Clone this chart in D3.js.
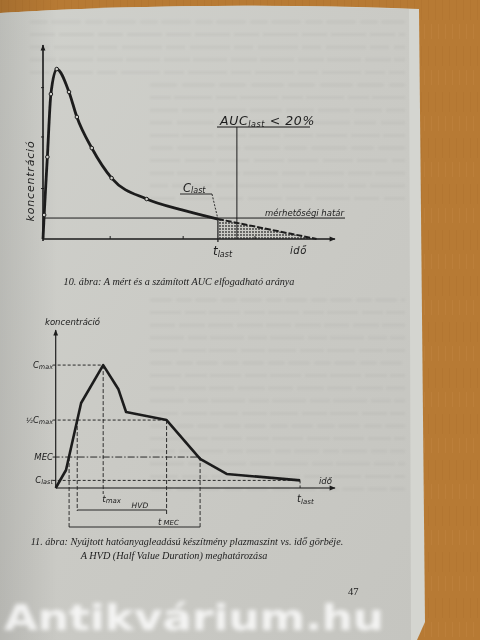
<!DOCTYPE html>
<html><head><meta charset="utf-8">
<script src="https://cdn.jsdelivr.net/npm/d3@7"></script>
<style>html,body{margin:0;padding:0;background:#b47832;} svg{display:block}</style>
</head><body><svg id="c" width="480" height="640"></svg>
<script>
// ---------- Chart 1 (10. ábra) : measured concentration curve ----------
const c1_time   = [0, 0.4, 1.5, 2.7, 4.7, 8.9, 11.6, 16.7, 23.5, 35.5, 47.9, 59.9];
const c1_conc   = [0, 12.4, 42.3, 74.7, 87.6, 75.8, 62.9, 46.9, 31.4, 20.6, 14.9, 10.3];
const c1_marked = [0, 1, 1, 1, 1, 1, 1, 1, 1, 1, 0, 0];   // sampled points drawn as circles
const c1_tail_time = [59.9, 93.7];                        // extrapolated part after t_last
const c1_tail_conc = [10.3, 0];
const c1_loq = 10.8;          // mérhetőségi határ
const c1_tlast = 59.9;
const c1_aucMarker = 66.4;    // vertical line under AUC label
const c1_xticks = [23, 48, 72.6];
const c1_yticks = [26, 52.6, 78];

// ---------- Chart 2 (11. ábra) : HVD ----------
const c2_time = [0, 3.7, 9.1, 17.0, 22.4, 25.2, 39.7, 51.7, 61.2, 87.5];
const c2_conc = [0, 11.4, 53.8, 77.8, 62.7, 48.1, 43.0, 18.4, 8.9, 4.8];
const c2_levels = {Cmax: 77.8, half: 43.0, MEC: 19.6, Clast: 4.8};
const c2_times  = {mecStart: 4.8, halfStart: 7.7, tmax: 17.0, halfEnd: 39.7, mecEnd: 51.7, tlast: 87.5};

const svg = d3.select("#c");
const ink = "#1d1d1d";
const defs = svg.append("defs");

// paper gradient
const g1 = defs.append("linearGradient").attr("id","paper").attr("x1",0).attr("x2",1).attr("y1",0).attr("y2",1);
g1.append("stop").attr("offset","0").attr("stop-color","#d0d1cc");
g1.append("stop").attr("offset","0.5").attr("stop-color","#cacac5");
g1.append("stop").attr("offset","1").attr("stop-color","#c5c5c0");
const g2 = defs.append("linearGradient").attr("id","shade").attr("x1",0).attr("x2",1);
g2.append("stop").attr("offset","0").attr("stop-color","#000").attr("stop-opacity",0.10);
g2.append("stop").attr("offset","0.12").attr("stop-color","#000").attr("stop-opacity",0);
const woodPat = defs.append("pattern").attr("id","wood").attr("width",7).attr("height",46).attr("patternUnits","userSpaceOnUse");
woodPat.append("rect").attr("width",7).attr("height",46).attr("fill","#b77a34");
woodPat.append("rect").attr("x",1).attr("width",1).attr("height",20).attr("fill","#ab6e2a").attr("opacity",0.35);
woodPat.append("rect").attr("x",4).attr("y",24).attr("width",1).attr("height",15).attr("fill","#c48944").attr("opacity",0.35);
const dots = defs.append("pattern").attr("id","dots").attr("width",3).attr("height",3).attr("patternUnits","userSpaceOnUse");
dots.append("circle").attr("cx",1).attr("cy",1).attr("r",0.9).attr("fill",ink);
defs.append("filter").attr("id","blur").append("feGaussianBlur").attr("stdDeviation",2.2);
defs.append("filter").attr("id","blur1").append("feGaussianBlur").attr("stdDeviation",0.8);
defs.append("filter").attr("id","soft").append("feGaussianBlur").attr("stdDeviation",0.35);

// background wood and page
svg.append("rect").attr("width",480).attr("height",640).attr("fill","url(#wood)");
svg.append("path").attr("d","M0,13 Q200,1 419,9 L425,622 L417,640 L0,640 Z").attr("fill","#d4d5d0");
svg.append("path").attr("d","M0,13 Q200,1 409,9 L411,640 L0,640 Z").attr("fill","url(#paper)");
svg.append("rect").attr("width",480).attr("height",640).attr("fill","url(#shade)");

// faint bleed-through text lines
const bleed = svg.append("g").attr("stroke","#9a9a96").attr("stroke-width",3).attr("opacity",0.13).attr("filter","url(#blur1)");
for (let i=0;i<15;i++){
  const y = 22 + i*12.6;
  bleed.append("line").attr("x1", i<5?30:150).attr("x2",405).attr("y1",y).attr("y2",y)
    .attr("stroke-dasharray", (18+ (i*7)%13)+","+(3+(i%3))+","+(30+(i*5)%11)+",4");
}
for (let i=0;i<16;i++){
  const y = 300 + i*12.6;
  bleed.append("line").attr("x1",150).attr("x2",405).attr("y1",y).attr("y2",y)
    .attr("stroke-dasharray", (22+(i*9)%15)+",4,"+(16+(i*5)%12)+",3");
}

const main = svg.append("g").attr("filter","url(#soft)");

// arrow marker
const mk = defs.append("marker").attr("id","arr").attr("viewBox","0 0 10 10").attr("refX",9).attr("refY",5)
  .attr("markerWidth",8).attr("markerHeight",6).attr("orient","auto").attr("markerUnits","userSpaceOnUse");
mk.append("path").attr("d","M0,1 L10,5 L0,9 Z").attr("fill",ink);

// ====== Chart 1 ======
const x1 = d3.scaleLinear().domain([0,100]).range([43,335]);
const y1 = d3.scaleLinear().domain([0,100]).range([239,45]);
const c1 = main.append("g");

// shaded extrapolated AUC area
const tailArea = d3.area().x((d,i)=>x1(c1_tail_time[i])).y0(y1(0)).y1((d,i)=>y1(c1_tail_conc[i]));
c1.append("path").datum(c1_tail_time).attr("d",tailArea).attr("fill","url(#dots)").attr("opacity",0.85);
c1.append("path").datum(c1_tail_time)
  .attr("d", d3.line().x((d,i)=>x1(c1_tail_time[i])).y((d,i)=>y1(c1_tail_conc[i])))
  .attr("fill","none").attr("stroke",ink).attr("stroke-width",2).attr("stroke-dasharray","6,2");

// axes
c1.append("line").attr("x1",x1(0)).attr("x2",x1(0)).attr("y1",y1(0)+2).attr("y2",y1(100))
  .attr("stroke",ink).attr("stroke-width",1.6).attr("marker-end","url(#arr)");
c1.append("line").attr("x1",x1(0)).attr("x2",x1(100)).attr("y1",y1(0)).attr("y2",y1(0))
  .attr("stroke",ink).attr("stroke-width",1.4).attr("marker-end","url(#arr)");
c1_xticks.forEach(t=>c1.append("line").attr("x1",x1(t)).attr("x2",x1(t)).attr("y1",y1(0)).attr("y2",y1(0)-3).attr("stroke",ink).attr("stroke-width",1));
c1_yticks.forEach(v=>c1.append("line").attr("x1",x1(0)-2).attr("x2",x1(0)+1).attr("y1",y1(v)).attr("y2",y1(v)).attr("stroke",ink).attr("stroke-width",1));

// limit of quantification line
c1.append("line").attr("x1",x1(0)).attr("x2",345).attr("y1",y1(c1_loq)).attr("y2",y1(c1_loq)).attr("stroke",ink).attr("stroke-width",1);
c1.append("text").attr("x",344).attr("y",y1(c1_loq)-2.5).attr("text-anchor","end")
  .attr("font-family","DejaVu Sans").attr("font-style","italic").attr("font-size",8.5).attr("fill",ink).text("mérhetőségi határ");

// t_last vertical
c1.append("line").attr("x1",x1(c1_tlast)).attr("x2",x1(c1_tlast)).attr("y1",y1(c1_conc[c1_conc.length-1])).attr("y2",y1(0)+3)
  .attr("stroke",ink).attr("stroke-width",1.2);
// AUC vertical
c1.append("line").attr("x1",x1(c1_aucMarker)).attr("x2",x1(c1_aucMarker)).attr("y1",127).attr("y2",y1(0))
  .attr("stroke",ink).attr("stroke-width",1);

// curve
const line1 = d3.line().curve(d3.curveMonotoneX).x((d,i)=>x1(c1_time[i])).y((d,i)=>y1(c1_conc[i]));
c1.append("path").datum(c1_time).attr("d",line1).attr("fill","none").attr("stroke",ink).attr("stroke-width",2.8);
c1.selectAll(".pt").data(c1_time.map((t,i)=>({t, c:c1_conc[i], m:c1_marked[i]})).filter(d=>d.m))
  .join("circle").attr("cx",d=>x1(d.t)).attr("cy",d=>y1(d.c)).attr("r",1.8)
  .attr("fill","#cfcfca").attr("stroke",ink).attr("stroke-width",1);

// labels
const hand = s => s.attr("font-family","DejaVu Sans").attr("font-style","italic").attr("fill",ink);
hand(c1.append("text").attr("transform","translate(34,181) rotate(-90)").attr("text-anchor","middle").attr("font-size",11).attr("letter-spacing",0.8)).text("koncentráció");
const auc = hand(c1.append("text").attr("x",220).attr("y",125).attr("font-size",12.5).attr("letter-spacing",0.6));
auc.append("tspan").text("AUC");
auc.append("tspan").attr("font-size",8).attr("dy",2).text("last");
auc.append("tspan").attr("dy",-2).text(" < 20%");
c1.append("line").attr("x1",217).attr("x2",310).attr("y1",127).attr("y2",127).attr("stroke",ink).attr("stroke-width",1);
const cl = hand(c1.append("text").attr("x",183).attr("y",192).attr("font-size",11.5));
cl.append("tspan").text("C");
cl.append("tspan").attr("font-size",8).attr("dy",1).text("last");
c1.append("line").attr("x1",180).attr("x2",212).attr("y1",194).attr("y2",194).attr("stroke",ink).attr("stroke-width",0.9);
c1.append("line").attr("x1",212).attr("x2",x1(c1_tlast)).attr("y1",194).attr("y2",y1(c1_conc[c1_conc.length-1]))
  .attr("stroke",ink).attr("stroke-width",0.9).attr("stroke-dasharray","2,1.5");
const tl = hand(c1.append("text").attr("x",x1(c1_tlast)-5).attr("y",255).attr("font-size",12));
tl.append("tspan").text("t");
tl.append("tspan").attr("font-size",8).attr("dy",2).text("last");
hand(c1.append("text").attr("x",290).attr("y",254).attr("font-size",10).attr("letter-spacing",0.5)).text("idő");

// caption 1
main.append("text").attr("x",179).attr("y",285).attr("text-anchor","middle").attr("font-family","Liberation Serif")
  .attr("font-style","italic").attr("font-size",10.2).attr("fill","#222").text("10. ábra: A mért és a számított AUC elfogadható aránya");

// ====== Chart 2 ======
const x2 = d3.scaleLinear().domain([0,100]).range([55.7,335]);
const y2 = d3.scaleLinear().domain([0,100]).range([488,330]);
const c2 = main.append("g");
const thin = (sel,dash)=>sel.attr("stroke",ink).attr("stroke-width",0.9).attr("stroke-dasharray",dash||null);

c2.append("line").attr("x1",x2(0)).attr("x2",x2(0)).attr("y1",y2(0)).attr("y2",y2(100))
  .attr("stroke",ink).attr("stroke-width",1.2).attr("marker-end","url(#arr)");
c2.append("line").attr("x1",x2(0)).attr("x2",x2(100)).attr("y1",y2(0)).attr("y2",y2(0))
  .attr("stroke",ink).attr("stroke-width",1.2).attr("marker-end","url(#arr)");

const L = c2_levels, T = c2_times;
// horizontal guides
thin(c2.append("line").attr("x1",x2(0)-3).attr("x2",x2(T.tmax)).attr("y1",y2(L.Cmax)).attr("y2",y2(L.Cmax)),"3,2");
thin(c2.append("line").attr("x1",x2(0)-3).attr("x2",x2(T.halfEnd)).attr("y1",y2(L.half)).attr("y2",y2(L.half)),"3,2");
thin(c2.append("line").attr("x1",x2(0)-3).attr("x2",x2(T.mecEnd)).attr("y1",y2(L.MEC)).attr("y2",y2(L.MEC)),"7,2,1.5,2");
thin(c2.append("line").attr("x1",x2(0)-3).attr("x2",x2(T.tlast)).attr("y1",y2(L.Clast)).attr("y2",y2(L.Clast)),"3,2");
// vertical guides
thin(c2.append("line").attr("x1",x2(T.mecStart)).attr("x2",x2(T.mecStart)).attr("y1",y2(L.MEC)).attr("y2",528),"4,2");
thin(c2.append("line").attr("x1",x2(T.halfStart)).attr("x2",x2(T.halfStart)).attr("y1",y2(L.half)).attr("y2",511),"4,2");
thin(c2.append("line").attr("x1",x2(T.tmax)).attr("x2",x2(T.tmax)).attr("y1",y2(L.Cmax)).attr("y2",494),"4,2");
thin(c2.append("line").attr("x1",x2(T.halfEnd)).attr("x2",x2(T.halfEnd)).attr("y1",y2(L.half)).attr("y2",514),"4,2");
thin(c2.append("line").attr("x1",x2(T.mecEnd)).attr("x2",x2(T.mecEnd)).attr("y1",y2(L.MEC)).attr("y2",529),"4,2");
thin(c2.append("line").attr("x1",x2(T.tlast)).attr("x2",x2(T.tlast)).attr("y1",y2(L.Clast)).attr("y2",y2(0)),"3,2");
// brackets
thin(c2.append("line").attr("x1",x2(T.halfStart)).attr("x2",x2(T.halfEnd)).attr("y1",510).attr("y2",510));
thin(c2.append("line").attr("x1",x2(T.mecStart)).attr("x2",x2(T.mecEnd)).attr("y1",527).attr("y2",527));

// curve
const line2 = d3.line().x((d,i)=>x2(c2_time[i])).y((d,i)=>y2(c2_conc[i]));
c2.append("path").datum(c2_time).attr("d",line2).attr("fill","none").attr("stroke",ink).attr("stroke-width",2.6).attr("stroke-linejoin","round");

// labels chart 2
const fs2 = 8.5;
hand(c2.append("text").attr("x",45).attr("y",325).attr("font-size",fs2)).text("koncentráció");
hand(c2.append("text").attr("x",319).attr("y",484).attr("font-size",fs2)).text("idő");
const lab = (y, main_, sub, pre) => {
  const t = hand(c2.append("text").attr("x",53).attr("y",y+3).attr("text-anchor","end").attr("font-size",fs2));
  if (pre) t.append("tspan").attr("font-size",7).text(pre);
  t.append("tspan").text(main_);
  if (sub) t.append("tspan").attr("font-size",6.5).attr("dy",1).text(sub);
};
lab(y2(L.Cmax), "C", "max");
lab(y2(L.half), "C", "max", "½");
lab(y2(L.MEC), "MEC");
lab(y2(L.Clast), "C", "last");
const tm = hand(c2.append("text").attr("x",x2(T.tmax)-1).attr("y",502).attr("font-size",9));
tm.append("tspan").text("t");
tm.append("tspan").attr("font-size",7).attr("dy",1).text("max");
const tl2 = hand(c2.append("text").attr("x",x2(T.tlast)-3).attr("y",502).attr("font-size",10));
tl2.append("tspan").text("t");
tl2.append("tspan").attr("font-size",7).attr("dy",2).text("last");
hand(c2.append("text").attr("x",(x2(T.halfStart)+x2(T.halfEnd))/2+18).attr("y",508).attr("text-anchor","middle").attr("font-size",7.5)).text("HVD");
const tmec = hand(c2.append("text").attr("x",158).attr("y",525).attr("font-size",8.5));
tmec.append("tspan").text("t");
tmec.append("tspan").attr("font-size",7).attr("dy",0).text(" MEC");

// caption 2
main.append("text").attr("x",187).attr("y",545).attr("text-anchor","middle").attr("font-family","Liberation Serif")
  .attr("font-style","italic").attr("font-size",10.2).attr("fill","#222").text("11. ábra: Nyújtott hatóanyagleadású készítmény plazmaszint vs. idő görbéje.");
main.append("text").attr("x",174).attr("y",559).attr("text-anchor","middle").attr("font-family","Liberation Serif")
  .attr("font-style","italic").attr("font-size",10.2).attr("fill","#222").text("A HVD (Half Value Duration) meghatározása");

// page number
main.append("text").attr("x",348).attr("y",595).attr("font-family","Liberation Serif").attr("font-size",10.5).attr("fill","#222").text("47");

// watermark
svg.append("text").attr("x",4).attr("y",630).attr("font-family","DejaVu Sans").attr("font-weight","bold").attr("font-size",36)
  .attr("textLength",380).attr("lengthAdjust","spacingAndGlyphs").attr("fill","#ffffff").attr("opacity",0.8).attr("filter","url(#blur)").text("Antikvárium.hu");
</script></body></html>
